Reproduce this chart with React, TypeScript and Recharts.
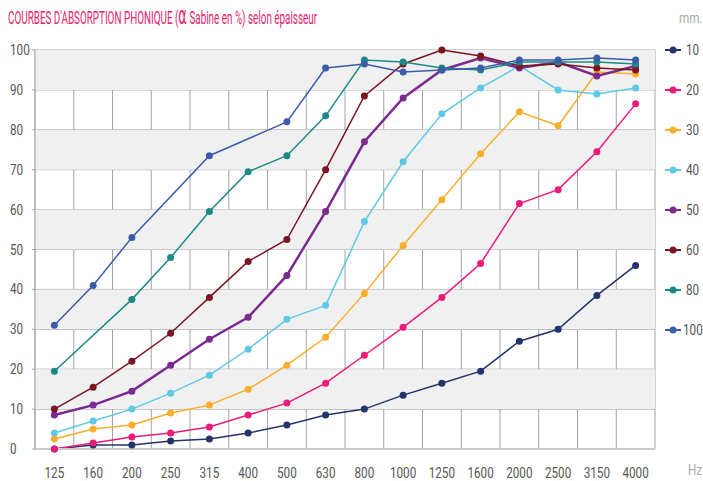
import { LineChart, Line, XAxis, YAxis, CartesianGrid, ReferenceArea } from 'recharts';

const FONT = "Roboto, 'Liberation Sans', sans-serif";
const SQUEEZE = 0.78;

const frequencies = ['125', '160', '200', '250', '315', '400', '500', '630', '800', '1000', '1250', '1600', '2000', '2500', '3150', '4000'];

const mm10 = [0, 1, 1, 2, 2.5, 4, 6, 8.5, 10, 13.5, 16.5, 19.5, 27, 30, 38.5, 46];
const mm20 = [0, 1.5, 3, 4, 5.5, 8.5, 11.5, 16.5, 23.5, 30.5, 38, 46.5, 61.5, 65, 74.5, 86.5];
const mm30 = [2.5, 5, 6, 9, 11, 15, 21, 28, 39, 51, 62.5, 74, 84.5, 81, 94.5, 94];
const mm40 = [4, 7, 10, 14, 18.5, 25, 32.5, 36, 57, 72, 84, 90.5, 96, 90, 89, 90.5];
const mm50 = [8.5, 11, 14.5, 21, 27.5, 33, 43.5, 59.5, 77, 88, 95, 98, 95.5, 97, 93.5, 96];
const mm60 = [10, 15.5, 22, 29, 38, 47, 52.5, 70, 88.5, 96.5, 100, 98.5, 96, 96.5, 95.5, 95];
const mm80 = [19.5, null, 37.5, 48, 59.5, 69.5, 73.5, 83.5, 97.5, 97, 95.5, 95, 97, 97, 97, 96.5];
const mm100 = [31, 41, 53, null, 73.5, null, 82, 95.5, 96.5, 94.5, 95, 95.5, 97.5, 97.5, 98, 97.5];

const yTicks = [0, 10, 20, 30, 40, 50, 60, 70, 80, 90, 100];
const shadedBands = [10, 30, 50, 70, 90];

const series = [
  { key: 'mm10', name: '10', values: mm10, color: '#23336b', width: 1.5 },
  { key: 'mm20', name: '20', values: mm20, color: '#ec1a78', width: 1.5 },
  { key: 'mm30', name: '30', values: mm30, color: '#f9ad2a', width: 1.5 },
  { key: 'mm40', name: '40', values: mm40, color: '#5ec9e4', width: 1.5 },
  { key: 'mm50', name: '50', values: mm50, color: '#7b2a90', width: 2.5 },
  { key: 'mm60', name: '60', values: mm60, color: '#7a1521', width: 1.5 },
  { key: 'mm80', name: '80', values: mm80, color: '#1b8a86', width: 1.5 },
  { key: 'mm100', name: '100', values: mm100, color: '#3b5ca8', width: 1.5 },
];

const data = frequencies.map((f, i) => {
  const row: Record<string, any> = { f };
  series.forEach((s) => { row[s.key] = s.values[i]; });
  return row;
});

const YTick = ({ y, payload }: any) => (
  <g transform={`translate(10,${y}) scale(${SQUEEZE},1)`}>
    <text x={0} y={0} dy={5} textAnchor="start" fill="#555" fontSize={15} fontFamily={FONT}>
      {payload.value}
    </text>
  </g>
);

const XTick = ({ x, y, payload }: any) => (
  <g transform={`translate(${x},${y + 21}) scale(${SQUEEZE},1)`}>
    <text x={0} y={0} textAnchor="middle" fill="#555" fontSize={15} fontFamily={FONT}>
      {payload.value}
    </text>
  </g>
);

const squeezed = (extra: any) => ({
  position: 'absolute' as const,
  fontFamily: FONT,
  transform: `scaleX(${SQUEEZE})`,
  transformOrigin: 'left top',
  whiteSpace: 'nowrap' as const,
  ...extra,
});

export default function App() {
  return (
    <div style={{ position: 'absolute', left: 0, top: 0, width: 703, height: 481, background: '#fff', overflow: 'hidden' }}>
      <div style={squeezed({ left: 8, top: 6, fontSize: 19, color: '#e6226f', transform: 'scaleX(0.52)' })}>
        COURBES D'ABSORPTION PHONIQUE (<span style={{ fontFamily: "'DejaVu Sans', sans-serif", fontSize: 25, lineHeight: '16px' }}>α</span> Sabine en %) selon épaisseur
      </div>
      <div style={squeezed({ left: 679, top: 9, fontSize: 15, color: '#aaa' })}>mm.</div>
      <div style={squeezed({ left: 688, top: 461, fontSize: 15, color: '#aaa' })}>Hz</div>
      <div style={{ position: 'absolute', left: 664, top: 43 }}>
        {series.map((s) => (
          <div key={s.key} style={{ height: 40, position: 'relative' }}>
            <svg width={20} height={14} style={{ position: 'absolute', left: 0, top: 0 }}>
              <line x1={1} y1={7} x2={17} y2={7} stroke={s.color} strokeWidth={2} />
              <circle cx={9} cy={7} r={3.5} fill={s.color} />
            </svg>
            <span style={squeezed({ left: s.name.length > 2 ? 19 : 22, top: -2, fontSize: 15, color: '#555', lineHeight: '18px' })}>{s.name}</span>
          </div>
        ))}
      </div>
      <LineChart width={703} height={481} data={data} margin={{ top: 50, right: 48, left: 0, bottom: 0 }}>
        {shadedBands.map((b) => (
          <ReferenceArea key={b} y1={b} y2={b + 10} fill="#f0f0f0" fillOpacity={1} stroke="none" ifOverflow="visible" />
        ))}
        <CartesianGrid
          stroke="#a0a3a6"
          strokeWidth={1}
          verticalCoordinatesGenerator={({ offset }: any) =>
            Array.from({ length: frequencies.length + 1 }, (_, i) => offset.left + (i * offset.width) / frequencies.length)
          }
        />
        <XAxis
          dataKey="f"
          scale="band"
          interval={0}
          height={32}
          axisLine={{ stroke: '#c8c9ca', strokeWidth: 2 }}
          tickLine={false}
          tick={<XTick />}
        />
        <YAxis
          domain={[0, 100]}
          ticks={yTicks}
          width={35}
          interval={0}
          axisLine={{ stroke: '#a0a3a6' }}
          tickLine={{ stroke: '#a0a3a6' }}
          tickSize={3}
          tick={<YTick />}
        />
        {series.map((s) => (
          <Line
            key={s.key}
            dataKey={s.key}
            name={s.name}
            type="linear"
            stroke={s.color}
            strokeWidth={s.width}
            dot={{ r: 3.5, fill: s.color, stroke: s.color, strokeWidth: 0 }}
            connectNulls
            isAnimationActive={false}
          />
        ))}
      </LineChart>
    </div>
  );
}
